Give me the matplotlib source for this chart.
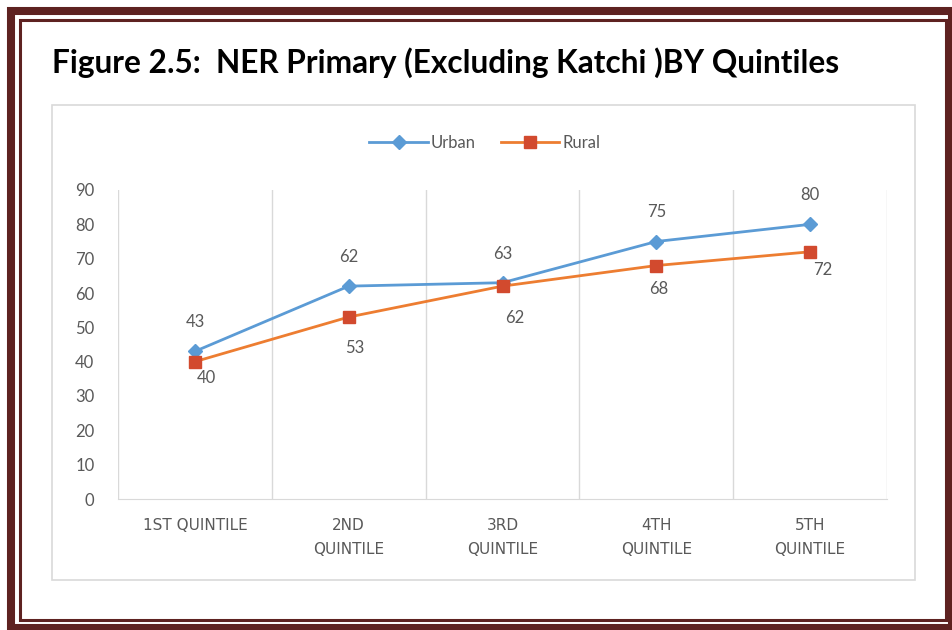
import matplotlib
matplotlib.use("Agg")
import matplotlib.pyplot as plt
from matplotlib.patches import Rectangle

# ---------------- data ----------------
categories = ["1ST QUINTILE", "2ND\nQUINTILE", "3RD\nQUINTILE", "4TH\nQUINTILE", "5TH\nQUINTILE"]
urban = [43, 62, 63, 75, 80]
rural = [40, 53, 62, 68, 72]
y_ticks = [0, 10, 20, 30, 40, 50, 60, 70, 80, 90]
title = "Figure 2.5:  NER Primary (Excluding Katchi )BY Quintiles"

# label offsets for the rural series (points), as placed in the original
rural_offsets = [(8, -12), (4, -22), (9, -23), (2, -17), (9, -13)]

W, H = 952, 630
BORDER = "#5E2221"
GREY_TXT = "#595959"
FONT = ["Lato", "DejaVu Sans"]


def px(x, y):
    # pixel (top-left origin) -> figure fraction
    return x / W, 1 - y / H


def frame(x_left, y_top, x_right, y_bottom, **kw):
    a, b = px(x_left, y_bottom)
    c, d = px(x_right, y_top)
    fig.add_artist(Rectangle((a, b), c - a, d - b, transform=fig.transFigure,
                             fill=False, **kw))


fig = plt.figure(figsize=(W / 100, H / 100), dpi=100)
fig.patch.set_facecolor("white")

# page border (thick + thin)
frame(11, 11, 952, 628, edgecolor=BORDER, linewidth=5.8)
frame(20, 20, 946, 620, edgecolor=BORDER, linewidth=2.2)

# chart box
frame(52, 105, 915, 580, edgecolor="#D9D9D9", linewidth=1.2)

tx, ty = px(52, 73)
fig.text(tx, ty, title, fontsize=22.8, fontweight="bold",
         family=FONT, va="baseline", ha="left", color="black")

l, b = px(118, 499)
r, t = px(887, 190)
ax = fig.add_axes([l, b, r - l, t - b])

xs = list(range(len(categories)))
ax.plot(xs, urban, color="#5B9BD5", linewidth=2, marker="D", markersize=7,
        markerfacecolor="#5B9BD5", markeredgecolor="#5B9BD5", label="Urban", zorder=3)
ax.plot(xs, rural, color="#ED7D31", linewidth=2, marker="s", markersize=9,
        markerfacecolor="#D24A2E", markeredgecolor="#D24A2E", label="Rural", zorder=3)

for i, v in enumerate(urban):
    ax.annotate(str(v), (i, v), xytext=(0, 21), textcoords="offset points",
                ha="center", va="center", fontsize=12, color=GREY_TXT, family=FONT)
for i, v in enumerate(rural):
    dx, dy = rural_offsets[i]
    ax.annotate(str(v), (i, v), xytext=(dx, dy), textcoords="offset points",
                ha="center", va="center", fontsize=12, color=GREY_TXT, family=FONT)

ax.set_xlim(-0.5, len(categories) - 0.5)
ax.set_ylim(0, 90)
ax.set_yticks(y_ticks)
ax.set_yticklabels([str(v) for v in y_ticks], family=FONT, fontsize=12, color=GREY_TXT)
ax.set_xticks(xs)
ax.set_xticklabels(categories, fontsize=11, color=GREY_TXT,
                   family=["DejaVu Sans"], linespacing=1.7)
ax.set_xticks([i - 0.5 for i in range(len(categories) + 1)], minor=True)
ax.grid(axis="x", which="minor", color="#D9D9D9", linewidth=1)
ax.tick_params(axis="both", which="both", length=0)
ax.tick_params(axis="x", pad=14)
ax.tick_params(axis="y", pad=17)
for side in ["top", "right", "left"]:
    ax.spines[side].set_visible(False)
ax.spines["bottom"].set_color("#D9D9D9")

lx, ly = px(485, 143)
fig.legend(loc="center", bbox_to_anchor=(lx, ly), ncol=2, frameon=False,
           prop={"family": FONT, "size": 12}, handlelength=3.5,
           columnspacing=1.5, handletextpad=0.2, labelcolor=GREY_TXT)

fig.savefig("out.png", dpi=100)
